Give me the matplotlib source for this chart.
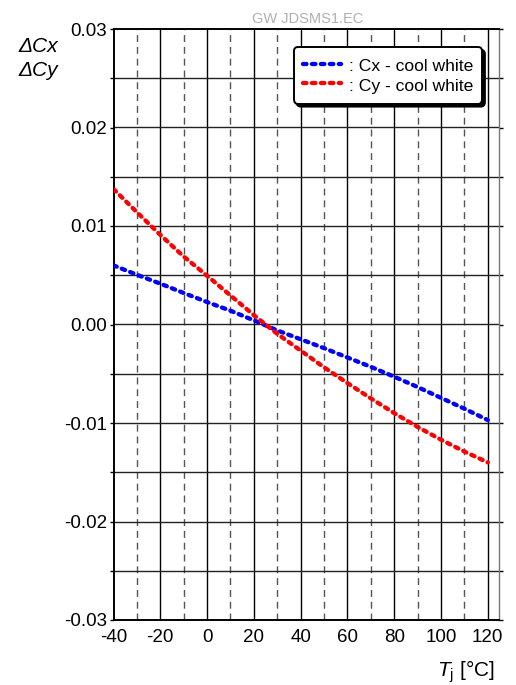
import matplotlib
matplotlib.use("Agg")
import matplotlib.pyplot as plt
import numpy as np

plt.rcParams['font.family'] = ['Liberation Sans', 'DejaVu Sans']
plt.rcParams['mathtext.fontset'] = 'custom'
plt.rcParams['mathtext.rm'] = 'Liberation Sans'
plt.rcParams['mathtext.it'] = 'Liberation Sans:italic'

# ---- data ----
temp = [-40, -30, -20, -10, 0, 10, 20, 30, 40, 50, 60, 70, 80, 90, 100, 110, 120]
cx_cool = [0.0060, 0.00505, 0.00415, 0.0032, 0.00228, 0.0014, 0.00042, -0.0006,
           -0.0015, -0.0024, -0.00335, -0.0043, -0.0053, -0.00635, -0.00745, -0.00855, -0.0097]
cy_cool = [0.01375, 0.0114, 0.0091, 0.0069, 0.00495, 0.00295, 0.00095, -0.00095,
           -0.00265, -0.00435, -0.00595, -0.0075, -0.0090, -0.0104, -0.0117, -0.0129, -0.0140]
labels = [': Cx - cool white', ': Cy - cool white']
xticks = [-40, -20, 0, 20, 40, 60, 80, 100, 120]
yticks = [-0.03, -0.02, -0.01, 0.00, 0.01, 0.02, 0.03]
ytick_labels = ['-0.03', '-0.02', '-0.01', '0.00', '0.01', '0.02', '0.03']

W, H = 516, 685
fig = plt.figure(figsize=(W / 100, H / 100), dpi=100)
L, R, T, B = 113.5, 499.5, 29, 620
ax = fig.add_axes([L / W, 1 - B / H, (R - L) / W, (B - T) / H])
ax.set_xlim(-40, 125)
ax.set_ylim(-0.03, 0.03)

# grid
for xv in range(-30, 120, 20):
    ax.axvline(xv, color='#555555', lw=1.0, ls=(0, (5, 3.5)), zorder=1)
for xv in range(-20, 121, 20):
    ax.axvline(xv, color='black', lw=1.0, zorder=1)
for yv in np.arange(-0.025, 0.0251, 0.005):
    ax.axhline(yv, color='#222222', lw=1.0, zorder=1)

dash = (0, (0.8, 1.28))
ax.plot(temp, cx_cool, color='#0000ff', lw=3.1, ls=dash, dash_capstyle='round',
        label=labels[0], zorder=3)
ax.plot(temp, cy_cool, color='#ff0000', lw=3.1, ls=dash, dash_capstyle='round',
        label=labels[1], zorder=3)

ax.set_xticks(xticks)
ax.set_xticklabels([str(v) for v in xticks], fontsize=13.5)
ax.set_yticks(yticks)
ax.set_yticklabels(ytick_labels, fontsize=13.5)
ax.set_yticks(np.arange(-0.025, 0.0251, 0.01), minor=True)
ax.tick_params(axis='y', which='both', direction='out', length=3, width=1.0,
               left=True, right=True, pad=1.5)
ax.tick_params(axis='x', which='both', length=0, pad=6.5)

for s in ['left', 'bottom', 'top']:
    ax.spines[s].set_linewidth(1.4)
    ax.spines[s].set_color('black')
ax.spines['right'].set_linewidth(1.0)
ax.spines['right'].set_color('#777777')

leg = ax.legend(loc='upper right', bbox_to_anchor=(0.955, 0.9695), borderaxespad=0,
                fontsize=12.6, handlelength=2.2, handletextpad=0.45, labelspacing=0.0,
                handleheight=1.35, borderpad=0.5, fancybox=True, framealpha=1,
                edgecolor='black', shadow={'color': 'black', 'alpha': 1})
leg.get_frame().set_linewidth(1.4)
leg.get_frame().set_boxstyle('round', pad=0, rounding_size=0.25)
leg.set_zorder(5)

fig.text(307.5 / W, 1 - 23 / H, 'GW JDSMS1.EC', color='#b0b0b0', fontsize=10.5,
         ha='center', va='baseline')
fig.text(58 / W, 1 - 51.5 / H, 'ΔCx', style='italic', fontsize=15, ha='right', va='baseline')
fig.text(58 / W, 1 - 76.5 / H, 'ΔCy', style='italic', fontsize=15, ha='right', va='baseline')
fig.text(495 / W, 1 - 677 / H, r'$T_{\mathrm{j}}$ [°C]', fontsize=15, ha='right', va='baseline')

fig.savefig('out.png', dpi=100)
